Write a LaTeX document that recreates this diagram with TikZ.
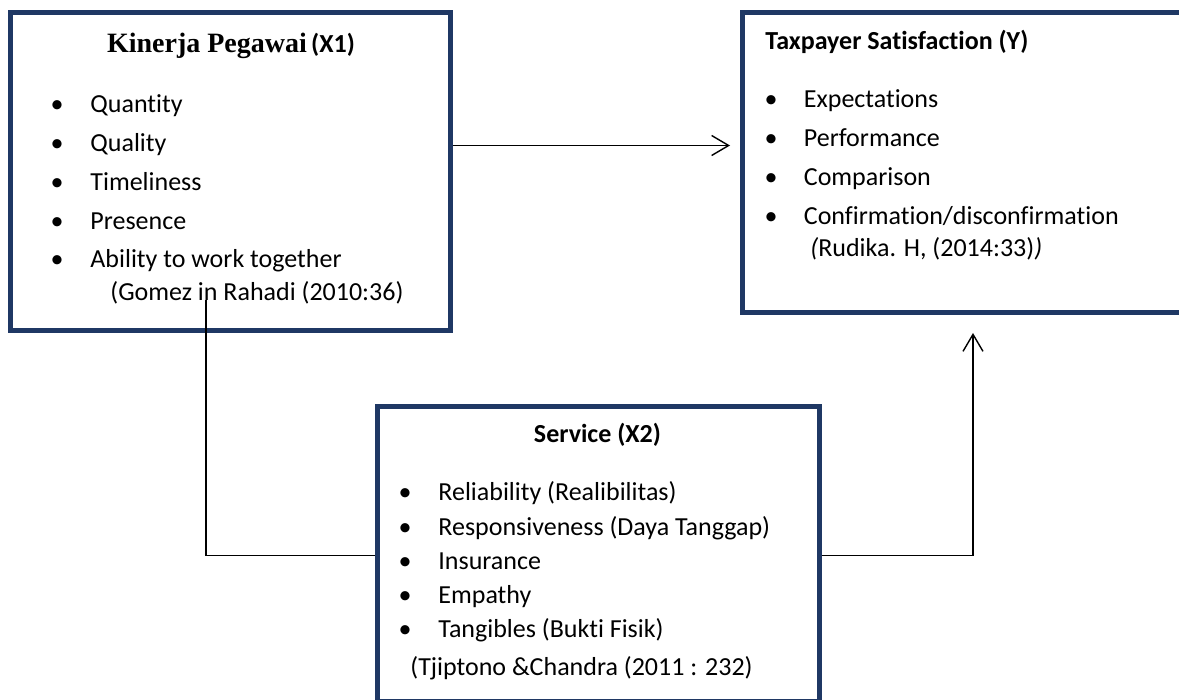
\documentclass[tikz,border=0pt]{standalone}
\usepackage{fontspec}
\setmainfont{Carlito}[Ligatures=NoCommon]
\newfontfamily\titlefont{Liberation Serif}
\usetikzlibrary{arrows.meta}
\definecolor{boxblue}{RGB}{31,56,100}

\tikzset{
	varbox/.style={draw=boxblue, line width=2.5pt, inner sep=0pt},
	item/.style={anchor=base west, inner sep=0pt, font=\fontsize{13}{16}\selectfont},
	bul/.style={anchor=base, inner sep=0pt, font=\fontsize{13}{16}\selectfont},
	heading/.style={inner sep=0pt, font=\fontsize{13}{16}\selectfont\bfseries},
	link/.style={line width=0.7pt},
	linkarrow/.style={link, -{Straight Barb[length=8.5pt,width=10pt,line width=0.7pt]}}
}

\begin{document}
\begin{tikzpicture}[x=0.5pt, y=-0.5pt]
		%%%%% FRAME %%%%%
		\useasboundingbox (0, 0) rectangle (1179, 700);
		
		%%%%% BOXES %%%%%
		\node[varbox, minimum width=220pt, minimum height=159pt] (x1) at (230.5, 171.5) {};
		\node[varbox, minimum width=228.75pt, minimum height=150pt] (ybox) at (971.25, 162.5) {};
		\node[varbox, minimum width=221pt, minimum height=147.25pt] (x2) at (598.5, 553.75) {};
		
		%%%%% KINERJA PEGAWAI %%%%%
		\node[heading, anchor=base] (x1title) at (231, 53) {{\titlefont\fontsize{14}{16}\selectfont Kinerja Pegawai}\,(X1)};
		\foreach \txt [count=\i] in {Quantity, Quality, Timeliness, Presence, Ability to work together}
		{
			\node[bul] (x1b\i) at (57, {113+38.7*(\i-1)}) {•};
			\node[item] (x1i\i) at (90, {113+38.7*(\i-1)}) {\txt};
		}
		\node[item] (x1src) at (110, 301) {(Gomez in Rahadi (2010:36)};
		
		%%%%% TAXPAYER SATISFACTION %%%%%
		\node[heading, anchor=base west] (ytitle) at (765, 50) {Taxpayer Satisfaction (Y)};
		\foreach \txt [count=\i] in {Expectations, Performance, Comparison, Confirmation/disconfirmation}
		{
			\node[bul] (yb\i) at (771, {108+38.9*(\i-1)}) {•};
			\node[item] (yi\i) at (803.5, {108+38.9*(\i-1)}) {\txt};
		}
		\node[item] (ysrc) at (810, 257) {\textit{(}Rudika. H, (2014:33)\textit{)}};
		
		%%%%% SERVICE %%%%%
		\node[heading, anchor=base] (x2title) at (597.5, 443) {Service (X2)};
		\foreach \txt [count=\i] in {Reliability (Realibilitas), Responsiveness (Daya Tanggap), Insurance, Empathy, Tangibles (Bukti Fisik)}
		{
			\node[bul] (x2b\i) at (405, {501+34*(\i-1)}) {•};
			\node[item] (x2i\i) at (438, {501+34*(\i-1)}) {\txt};
		}
		\node[item] (x2src) at (410, 675) {(Tjiptono \&Chandra (2011 : 232)};
		
		%%%%% CONNECTORS %%%%%
		\coordinate (x1tap) at (206, 300);
		\coordinate (yin) at (973, 333);
		\draw[linkarrow, shorten >=5pt] ([yshift=13pt]x1.east) -- ([yshift=13pt]x1.east -| ybox.west);
		\draw[link] (x1tap) |- ([yshift=-1pt]x2.west);
		\draw[linkarrow] ([yshift=-1pt]x2.east) -| (yin);
		
	\end{tikzpicture}
\end{document}
